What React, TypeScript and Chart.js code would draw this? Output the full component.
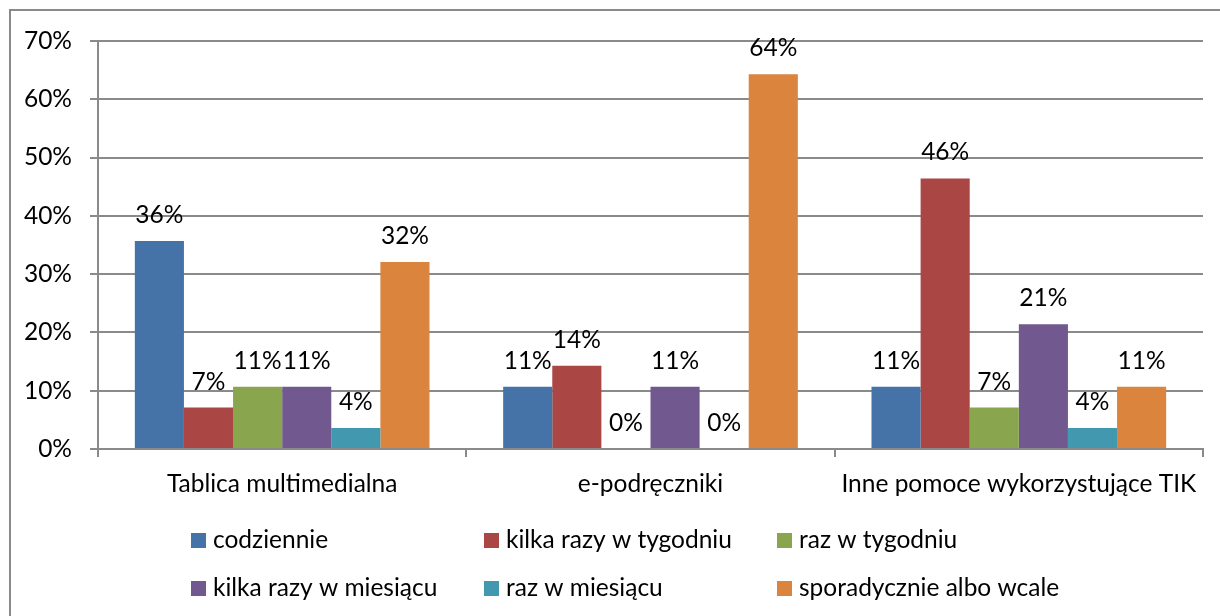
import React, { useEffect, useRef } from "react";
import { Chart, registerables } from "chart.js";

Chart.register(...registerables);

const categories = ["Tablica multimedialna", "e-podręczniki", "Inne pomoce wykorzystujące TIK"];
const seriesNames = [
  "codziennie",
  "kilka razy w tygodniu",
  "raz w tygodniu",
  "kilka razy w miesiącu",
  "raz w miesiącu",
  "sporadycznie albo wcale",
];
const seriesColors = ["#4572A7", "#AA4643", "#89A54E", "#71588F", "#4198AF", "#DB843D"];
const codziennie = [35.7, 10.7, 10.7];
const kilkaRazyWTygodniu = [7.1, 14.3, 46.4];
const razWTygodniu = [10.7, 0, 7.1];
const kilkaRazyWMiesiacu = [10.7, 10.7, 21.4];
const razWMiesiacu = [3.6, 0, 3.6];
const sporadycznie = [32.1, 64.3, 10.7];
const seriesValues = [codziennie, kilkaRazyWTygodniu, razWTygodniu, kilkaRazyWMiesiacu, razWMiesiacu, sporadycznie];
const yMin = 0;
const yMax = 70;
const yStep = 10;

const FONT_FAMILY = "Lato, 'Noto Sans', sans-serif";
const FONT_SIZE = 24.5;
const GRID = "#8a8a8a";

const borderPlugin = {
  id: "frameBorder",
  beforeDraw(chart: any) {
    const ctx = chart.ctx;
    ctx.save();
    ctx.fillStyle = "#ffffff";
    ctx.fillRect(0, 0, chart.width, chart.height);
    ctx.strokeStyle = GRID;
    ctx.lineWidth = 2;
    ctx.strokeRect(10, 10, chart.width + 50, chart.height + 50);
    ctx.restore();
  },
};

const valueLabelPlugin = {
  id: "valueLabels",
  afterDatasetsDraw(chart: any) {
    const ctx = chart.ctx;
    ctx.save();
    ctx.font = `${FONT_SIZE}px ${FONT_FAMILY}`;
    ctx.fillStyle = "#000";
    ctx.textAlign = "center";
    ctx.textBaseline = "middle";
    chart.data.datasets.forEach((ds: any, i: number) => {
      const meta = chart.getDatasetMeta(i);
      meta.data.forEach((bar: any, j: number) => {
        const v = ds.data[j];
        ctx.fillText(`${Math.round(v)}%`, bar.x, bar.y - 26);
      });
    });
    ctx.restore();
  },
};

const gridLegendPlugin = {
  id: "gridLegend",
  afterDraw(chart: any) {
    const ctx = chart.ctx;
    const colX = [191, 484, 777];
    const rowBase = [548, 596];
    const box = 15;
    ctx.save();
    ctx.font = `${FONT_SIZE}px ${FONT_FAMILY}`;
    ctx.textAlign = "left";
    ctx.textBaseline = "alphabetic";
    chart.data.datasets.forEach((ds: any, i: number) => {
      const x = colX[i % 3];
      const y = rowBase[Math.floor(i / 3)];
      ctx.fillStyle = ds.backgroundColor;
      ctx.fillRect(x, y - box, box, box);
      ctx.fillStyle = "#000";
      ctx.fillText(ds.label, x + box + 7, y);
    });
    ctx.restore();
  },
};

export default function App() {
  const ref = useRef<HTMLCanvasElement | null>(null);

  useEffect(() => {
    document.body.style.margin = "0";
    document.body.style.overflow = "hidden";
    const canvas = ref.current;
    if (!canvas) return;
    const chart = new Chart(canvas, {
      type: "bar",
      data: {
        labels: categories,
        datasets: seriesNames.map((name, i) => ({
          label: name,
          data: seriesValues[i],
          backgroundColor: seriesColors[i],
          borderWidth: 0,
          categoryPercentage: 0.8,
          barPercentage: 1.0,
        })),
      },
      options: {
        responsive: false,
        animation: false,
        devicePixelRatio: 1,
        layout: { padding: { top: 41, right: 17, bottom: 107, left: 0 } },
        plugins: {
          legend: { display: false },
          tooltip: { enabled: false },
          title: { display: false },
        },
        scales: {
          x: {
            afterFit(scale: any) {
              scale.height = 60;
            },
            grid: {
              display: true,
              drawOnChartArea: false,
              drawTicks: true,
              tickLength: 8,
              color: GRID,
              lineWidth: 2,
              offset: true,
            },
            border: { display: true, color: GRID, width: 2 },
            ticks: {
              color: "#000",
              padding: 12,
              font: { family: FONT_FAMILY, size: FONT_SIZE },
              maxRotation: 0,
              autoSkip: false,
            },
          },
          y: {
            min: yMin,
            max: yMax,
            afterFit(scale: any) {
              scale.width = 98;
            },
            grid: {
              color: GRID,
              lineWidth: 2,
              drawTicks: true,
              tickLength: 8,
            },
            border: { display: true, color: GRID, width: 2 },
            ticks: {
              stepSize: yStep,
              color: "#000",
              padding: 18,
              font: { family: FONT_FAMILY, size: FONT_SIZE },
              callback: (v: any) => `${v}%`,
            },
          },
        },
      },
      plugins: [borderPlugin, valueLabelPlugin, gridLegendPlugin],
    });
    return () => chart.destroy();
  }, []);

  return (
    <div style={{ position: "fixed", left: 0, top: 0, width: 1220, height: 616, overflow: "hidden", background: "#fff" }}>
      <canvas ref={ref} width={1220} height={616} style={{ display: "block", width: 1220, height: 616 }} />
    </div>
  );
}
